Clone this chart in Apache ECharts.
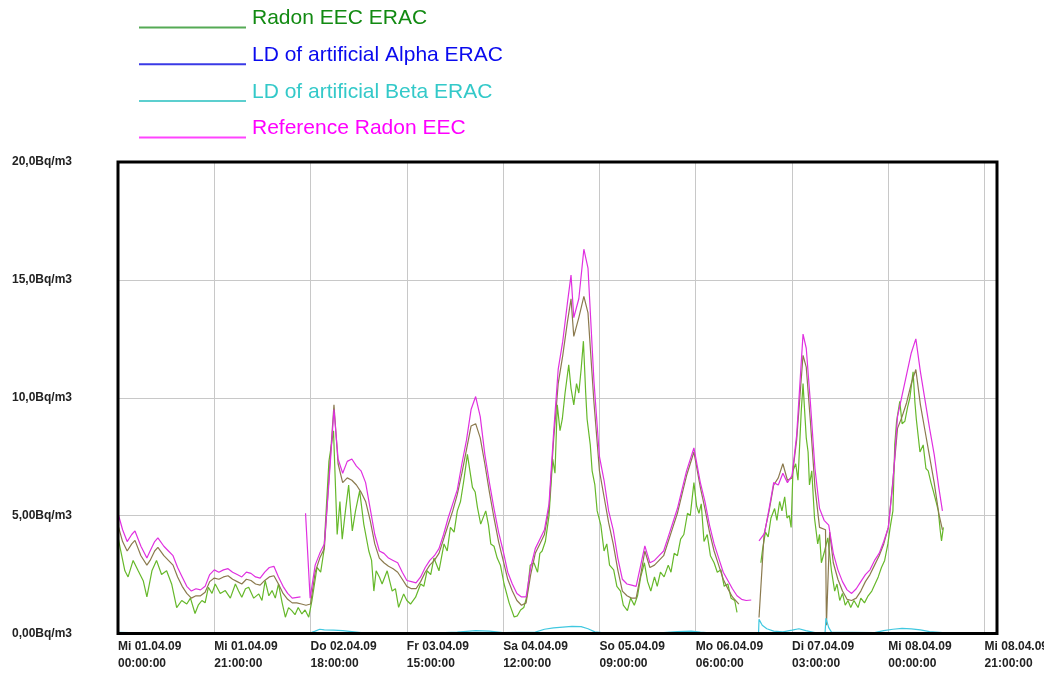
<!DOCTYPE html>
<html>
<head>
<meta charset="utf-8">
<script src="https://cdn.jsdelivr.net/npm/echarts@6/dist/echarts.min.js"></script>
<style>html,body{margin:0;padding:0;background:#fff}#c{width:1044px;height:673px}</style>
</head>
<body>
<div id="c"></div>
<script>
// time in hours since Mi 01.04.09 00:00:00
const xTickLabels = ['Mi 01.04.09\n00:00:00','Mi 01.04.09\n21:00:00','Do 02.04.09\n18:00:00','Fr 03.04.09\n15:00:00','Sa 04.04.09\n12:00:00','So 05.04.09\n09:00:00','Mo 06.04.09\n06:00:00','Di 07.04.09\n03:00:00','Mi 08.04.09\n00:00:00','Mi 08.04.09\n21:00:00'];
const yTickLabels = ['0,00Bq/m3','5,00Bq/m3','10,0Bq/m3','15,0Bq/m3','20,0Bq/m3'];
const legendNames = ['Radon EEC ERAC','LD of artificial Alpha ERAC','LD of artificial Beta ERAC','Reference Radon EEC'];

const referenceRadon = [[0,5.1],[1,4.4],[2,3.9],[3,4.2],[3.7,4.35],[5,3.7],[6.3,3.2],[7,3.5],[8,3.9],[8.7,4.06],[10,3.7],[11,3.5],[12,3.3],[13,2.8],[14,2.4],[15,2.0],[16,1.8],[17,1.9],[18,1.85],[19,2.0],[20,2.5],[21,2.7],[22,2.6],[23,2.7],[24,2.75],[25,2.6],[26,2.5],[27,2.4],[28,2.6],[29,2.55],[30,2.4],[31,2.35],[32,2.6],[33,2.8],[34,2.85],[35,2.4],[36,2.0],[37,1.7],[38,1.5],[39.8,1.55],[40.3,null],[40.9,5.1],[41.9,1.5],[43,2.9],[44,3.4],[45,3.8],[46,6.4],[47.1,9.5],[48,7.4],[49,6.8],[50,7.3],[51,7.4],[52,7.1],[53,6.9],[54,6.4],[55,5.3],[56,4.2],[57,3.5],[58,3.4],[59,3.2],[60,3.1],[61,3.0],[62,2.6],[63,2.25],[64,2.2],[65,2.15],[66,2.4],[67,2.8],[68,3.1],[69,3.3],[70,3.6],[71,4.2],[72,4.9],[73,5.5],[74,6.1],[75,7.2],[76,8.2],[77,9.5],[78,10.05],[79,9.2],[80,7.6],[81,6.4],[82,5.3],[83,4.3],[84,3.5],[85,2.6],[86,2.1],[87,1.7],[88,1.55],[89,1.55],[90,2.8],[91,3.6],[92,4.0],[93,4.4],[94,5.5],[95,8.5],[96,11.2],[97,12.4],[98,14.0],[98.8,15.2],[99.4,13.4],[100.5,14.2],[101.6,16.3],[102.5,15.5],[103.8,10.7],[105,7.5],[106,6.5],[107,5.2],[108,4.4],[109,3.2],[110,2.3],[111,2.1],[112,2.05],[113,2.0],[114,2.9],[114.9,3.72],[116,3.0],[117,3.1],[118,3.3],[119,3.5],[120,4.1],[121,4.7],[122,5.3],[123,6.1],[124,6.9],[125.6,7.87],[127,6.4],[128,5.6],[129,4.6],[130,3.8],[131,3.2],[132,2.6],[133,2.25],[134,1.9],[135,1.6],[136,1.45],[137,1.4],[138.1,1.42],[139,null],[139.8,3.93],[141,4.25],[142,5.3],[143,6.4],[144,6.3],[145,6.8],[146,6.4],[147,6.7],[148,8.4],[149.4,12.7],[150.1,12.1],[151,9.8],[152,7.0],[153,5.3],[154,4.8],[155,4.6],[156,3.4],[157,2.7],[158,2.2],[159,1.85],[160,1.7],[161,1.9],[162,2.2],[163,2.5],[164,2.7],[165,3.1],[166,3.4],[167,3.9],[168,4.5],[169,6.4],[170,9.2],[171,10.1],[172,11.0],[173,11.9],[174,12.5],[175,11.1],[176,9.9],[177,8.7],[178,7.6],[179,6.2],[179.8,5.2]];

const radonCorrected = [[0,4.6],[1,3.9],[2,3.5],[3,3.8],[3.7,3.95],[5,3.3],[6.3,2.9],[7,3.1],[8,3.5],[8.7,3.65],[10,3.3],[11,3.1],[12,2.9],[13,2.4],[14,2.0],[15,1.7],[16,1.5],[17,1.6],[18,1.6],[19,1.75],[20,2.2],[21,2.35],[22,2.3],[23,2.4],[24,2.45],[25,2.3],[26,2.2],[27,2.1],[28,2.3],[29,2.25],[30,2.1],[31,2.05],[32,2.25],[33,2.4],[34,2.45],[35,2.1],[36,1.7],[37,1.45],[38,1.3],[39,1.3],[40,1.25],[41,1.2],[42,1.25],[43,2.6],[44,3.2],[45,3.6],[46,6.6],[47.1,9.7],[48,7.2],[49,6.4],[50,6.6],[51,6.5],[52,6.3],[53,6.0],[54,5.6],[55,4.8],[56,3.8],[57,3.2],[58,3.0],[59,2.85],[60,2.75],[61,2.6],[62,2.3],[63,2.0],[64,1.9],[65,1.9],[66,2.2],[67,2.6],[68,2.9],[69,3.1],[70,3.4],[71,4.0],[72,4.6],[73,5.2],[74,5.9],[75,6.8],[76,7.8],[77,8.8],[78,8.9],[79,8.3],[80,7.2],[81,6.0],[82,4.9],[83,3.9],[84,3.1],[85,2.3],[86,1.8],[87,1.4],[88,1.2],[89,1.3],[90,2.5],[91,3.4],[92,3.8],[93,4.2],[94,5.3],[95,8.2],[96,10.6],[97,11.8],[98,13.2],[98.8,14.2],[99.4,12.6],[100.5,13.4],[101.6,14.3],[102.5,13.6],[103.8,9.8],[105,6.9],[106,5.8],[107,4.7],[108,3.8],[109,2.7],[110,1.8],[111,1.6],[112,1.5],[113,1.5],[114,2.5],[114.9,3.5],[116,2.8],[117,2.9],[118,3.1],[119,3.3],[120,3.9],[121,4.5],[122,5.1],[123,5.9],[124,6.7],[125.6,7.7],[127,6.2],[128,5.3],[129,4.3],[130,3.5],[131,2.9],[132,2.3],[133,1.9],[134,1.55],[135.4,1.25],[137,null],[139.8,0.68],[140.9,4.2],[142,5.2],[143,6.3],[144,6.6],[145,7.2],[146,6.5],[147,6.6],[148,8.2],[149.4,11.8],[150.1,11.3],[151,9.0],[152,6.2],[153,4.5],[154.3,4.4],[154.5,0.35],[155.2,4.3],[156,3.0],[157,2.3],[158,1.8],[159,1.45],[160,1.4],[161,1.5],[162,1.8],[163,2.2],[164,2.5],[165,2.9],[166,3.3],[167,3.8],[168,4.5],[169,6.5],[170,8.7],[171,9.2],[172,9.8],[173,10.6],[174,11.2],[175,9.7],[176,8.6],[177,7.5],[178,6.4],[179,5.1],[179.8,4.4]];

const radonErac = [[0,4.1],[0.5,3.6],[1.5,2.66],[2.2,2.4],[3.3,3.1],[4.4,2.66],[5.5,2.24],[6.3,1.55],[7.4,2.66],[8.4,3.1],[9.5,2.5],[10.6,2.66],[11.7,2.1],[12.8,1.1],[13.9,1.4],[15.0,1.25],[15.8,1.5],[16.8,0.85],[17.5,1.2],[18.3,1.4],[19.0,1.3],[19.7,1.96],[20.5,1.7],[21.2,2.1],[22.3,1.7],[23.4,1.82],[24.5,1.5],[25.6,2.1],[26.3,1.8],[27.0,1.54],[27.8,1.9],[28.5,1.96],[29.6,1.5],[30.7,1.68],[31.4,1.4],[32.1,2.24],[32.9,1.6],[33.6,1.82],[34.3,1.5],[35.0,2.1],[35.8,1.3],[36.5,0.69],[37.2,1.1],[37.9,0.97],[38.6,0.8],[39.3,1.1],[40.1,0.83],[40.8,1.0],[41.6,0.69],[42.3,1.4],[43.4,2.8],[44.2,2.6],[44.9,3.5],[46.0,7.3],[47.0,8.6],[47.8,4.2],[48.4,5.6],[48.9,4.0],[49.6,5.2],[50.3,6.3],[51.1,4.35],[51.8,5.2],[52.7,6.05],[53.6,4.64],[54.7,3.5],[55.3,3.1],[55.8,1.8],[56.3,2.66],[57.0,2.4],[57.6,2.1],[58.7,2.66],[59.8,1.8],[60.5,1.9],[61.2,1.11],[62.3,1.68],[63.0,1.4],[63.8,1.25],[64.9,1.54],[66.0,2.1],[66.7,2.0],[67.4,2.66],[68.2,2.5],[68.9,3.2],[70.0,2.66],[71.1,3.8],[71.8,3.5],[72.5,4.5],[73.3,4.3],[74.0,5.2],[74.7,5.6],[75.4,6.47],[76.2,7.6],[77.3,6.2],[77.9,6.0],[78.4,5.34],[79.1,4.64],[80.2,5.2],[80.8,4.6],[81.3,3.8],[82.0,3.7],[82.7,3.2],[83.4,2.9],[84.2,2.1],[85.3,1.3],[86.4,0.7],[87.1,0.75],[87.8,1.0],[88.5,1.1],[89.2,1.6],[89.9,2.9],[90.7,3.0],[91.5,2.6],[92.0,3.4],[92.5,3.5],[93.2,3.9],[94.0,5.0],[94.8,7.4],[95.3,6.8],[95.8,9.7],[96.4,8.6],[96.9,9.1],[97.5,10.2],[98.3,11.4],[98.8,10.4],[99.4,9.7],[100,10.6],[100.5,10.2],[101,11.2],[101.5,12.4],[102,10.2],[102.3,9.1],[103,8.0],[103.4,6.9],[104,6.3],[104.5,5.2],[105.3,4.6],[106,3.5],[106.6,3.8],[107.2,2.9],[108.1,2.7],[108.8,2.0],[109.6,1.8],[110.2,1.2],[111.1,0.97],[111.8,1.5],[112.6,1.2],[113.3,1.6],[114,2.4],[114.8,3.0],[115.5,2.2],[116.2,1.8],[117,2.4],[117.6,2.0],[118.3,2.6],[119.1,2.4],[120,2.9],[120.6,2.6],[121.3,3.4],[122,3.3],[122.7,4.0],[123.4,4.2],[124.2,5.1],[124.8,5.0],[125.6,6.4],[126.2,5.4],[126.7,5.1],[127.2,5.5],[127.8,3.9],[128.5,4.2],[129.2,3.3],[130,3.0],[130.7,2.6],[131.5,2.7],[132.2,2.0],[133,2.1],[133.7,1.5],[134.5,1.4],[135,0.9],[137,null],[140.2,3.0],[140.6,3.6],[141.2,4.3],[141.8,4.1],[142.4,4.9],[143.2,5.3],[143.7,4.8],[144.3,5.6],[144.8,5.2],[145.4,5.8],[145.9,4.9],[146.4,5.0],[146.8,4.5],[147.2,6.9],[147.8,7.2],[148.3,6.5],[149.0,9.4],[149.4,10.6],[149.7,9.6],[150.1,8.3],[150.5,7.7],[150.8,6.3],[151.3,6.9],[151.9,4.9],[152.6,3.8],[153.0,4.2],[153.4,3.0],[154.1,3.5],[154.8,4.06],[155.6,2.66],[156.3,1.8],[156.8,2.1],[157.4,1.4],[158.0,1.7],[158.6,1.2],[159.2,1.4],[159.8,1.1],[160.5,1.4],[161.4,1.1],[162.0,1.5],[162.8,1.3],[163.6,1.6],[164.4,1.8],[165.1,2.1],[165.8,2.4],[166.5,2.8],[167.2,3.1],[167.9,3.8],[168.4,4.5],[169.0,5.2],[169.4,8.0],[169.8,9.0],[170.5,9.85],[171.0,8.9],[171.6,9.0],[172.2,9.6],[172.7,10.0],[173.4,11.1],[173.8,9.8],[174.1,9.1],[174.9,7.7],[175.6,8.0],[176.2,7.0],[176.7,6.9],[177.3,6.4],[177.8,6.05],[178.4,5.6],[178.9,5.2],[179.3,4.4],[179.6,3.93],[180,4.5]];

const ldBeta = [[0,0.05],[5,0.03],[42,0.03],[43,0.1],[44,0.18],[45,0.15],[47,0.14],[49,0.12],[51,0.08],[53,0.04],[70,0.03],[74,0.06],[78,0.12],[81,0.1],[84,0.04],[91,0.06],[93,0.18],[95,0.24],[97,0.27],[99,0.3],[101,0.29],[102.5,0.2],[104,0.07],[106,0.03],[119,0.04],[122,0.08],[125,0.1],[127,0.06],[129,0.03],[139.7,0.03],[139.8,0.6],[140.5,0.35],[141.5,0.2],[143,0.1],[145,0.07],[147,0.14],[148.5,0.2],[150,0.12],[152,0.04],[154.2,0.03],[154.4,0.65],[155,0.25],[155.6,0.06],[165,0.04],[167,0.12],[169,0.18],[171,0.22],[173,0.2],[175,0.15],[177,0.08],[179.8,0.04]];

const ldAlpha = [[0,0.01],[179.8,0.01]];

const GRID = {left:118, top:162, width:879, height:471.5};
const chart = echarts.init(document.getElementById('c'), null, {renderer:'canvas'});
const legendLineColors = ['#55aa55','#3a3ae6','#5ccfcf','#ff44ff'];
const legendTextColors = ['#128a12','#0a0aee','#33c9c9','#ff00ff'];
const graphics = [];
legendNames.forEach((n,i)=>{
  const cy = 18.5 + i*36.7;
  graphics.push({type:'line', shape:{x1:139,y1:cy+9,x2:246,y2:cy+9}, style:{stroke:legendLineColors[i], lineWidth:2}});
  graphics.push({type:'text', style:{text:n, x:252, y:cy, fill:legendTextColors[i], fontSize:21, fontFamily:'Liberation Sans, Arial, sans-serif', verticalAlign:'middle'}});
});
graphics.push({type:'rect', z:100, silent:true, shape:{x:GRID.left, y:GRID.top, width:GRID.width, height:GRID.height}, style:{fill:null, stroke:'#000', lineWidth:3}});

const lineSeries = (name, data, color, z) => ({
  name, type:'line', data, showSymbol:false, symbol:'none', connectNulls:false,
  lineStyle:{color, width:1.2}, itemStyle:{color}, z, animation:false
});

const labelFont = {fontSize:12, fontWeight:'bold', color:'#222', fontFamily:'Liberation Sans, Arial, sans-serif'};

chart.setOption({
  animation:false,
  backgroundColor:'#fff',
  graphic: graphics,
  grid:Object.assign({show:false, containLabel:false, outerBoundsMode:'none'}, GRID),
  xAxis:{type:'value', min:0, max:191.7, interval:21,
    axisLine:{show:false}, axisTick:{show:false},
    splitLine:{show:true, lineStyle:{color:'#c8c8c8', width:1}},
    axisLabel:Object.assign({align:'left', margin:5, lineHeight:16.5, hideOverlap:false,
      formatter:(v)=>{ const k=Math.round(v/21); return Math.abs(v-k*21)<0.01 && xTickLabels[k] ? xTickLabels[k] : ''; }}, labelFont)
  },
  yAxis:{type:'value', min:0, max:20, interval:5,
    axisLine:{show:false}, axisTick:{show:false},
    splitLine:{show:true, lineStyle:{color:'#c8c8c8', width:1}},
    axisLabel:Object.assign({align:'left', margin:106,
      formatter:(v)=> yTickLabels[Math.round(v/5)] || ''}, labelFont)
  },
  series:[
    lineSeries(legendNames[1], ldAlpha, '#2a2ae0', 2),
    lineSeries(legendNames[0], radonErac, '#66b82a', 3),
    lineSeries('Radon EEC', radonCorrected, '#8b7a4e', 4),
    lineSeries(legendNames[3], referenceRadon, '#e030e0', 5),
    lineSeries(legendNames[2], ldBeta, '#40c8e0', 6)
  ]
});
</script>
</body>
</html>
